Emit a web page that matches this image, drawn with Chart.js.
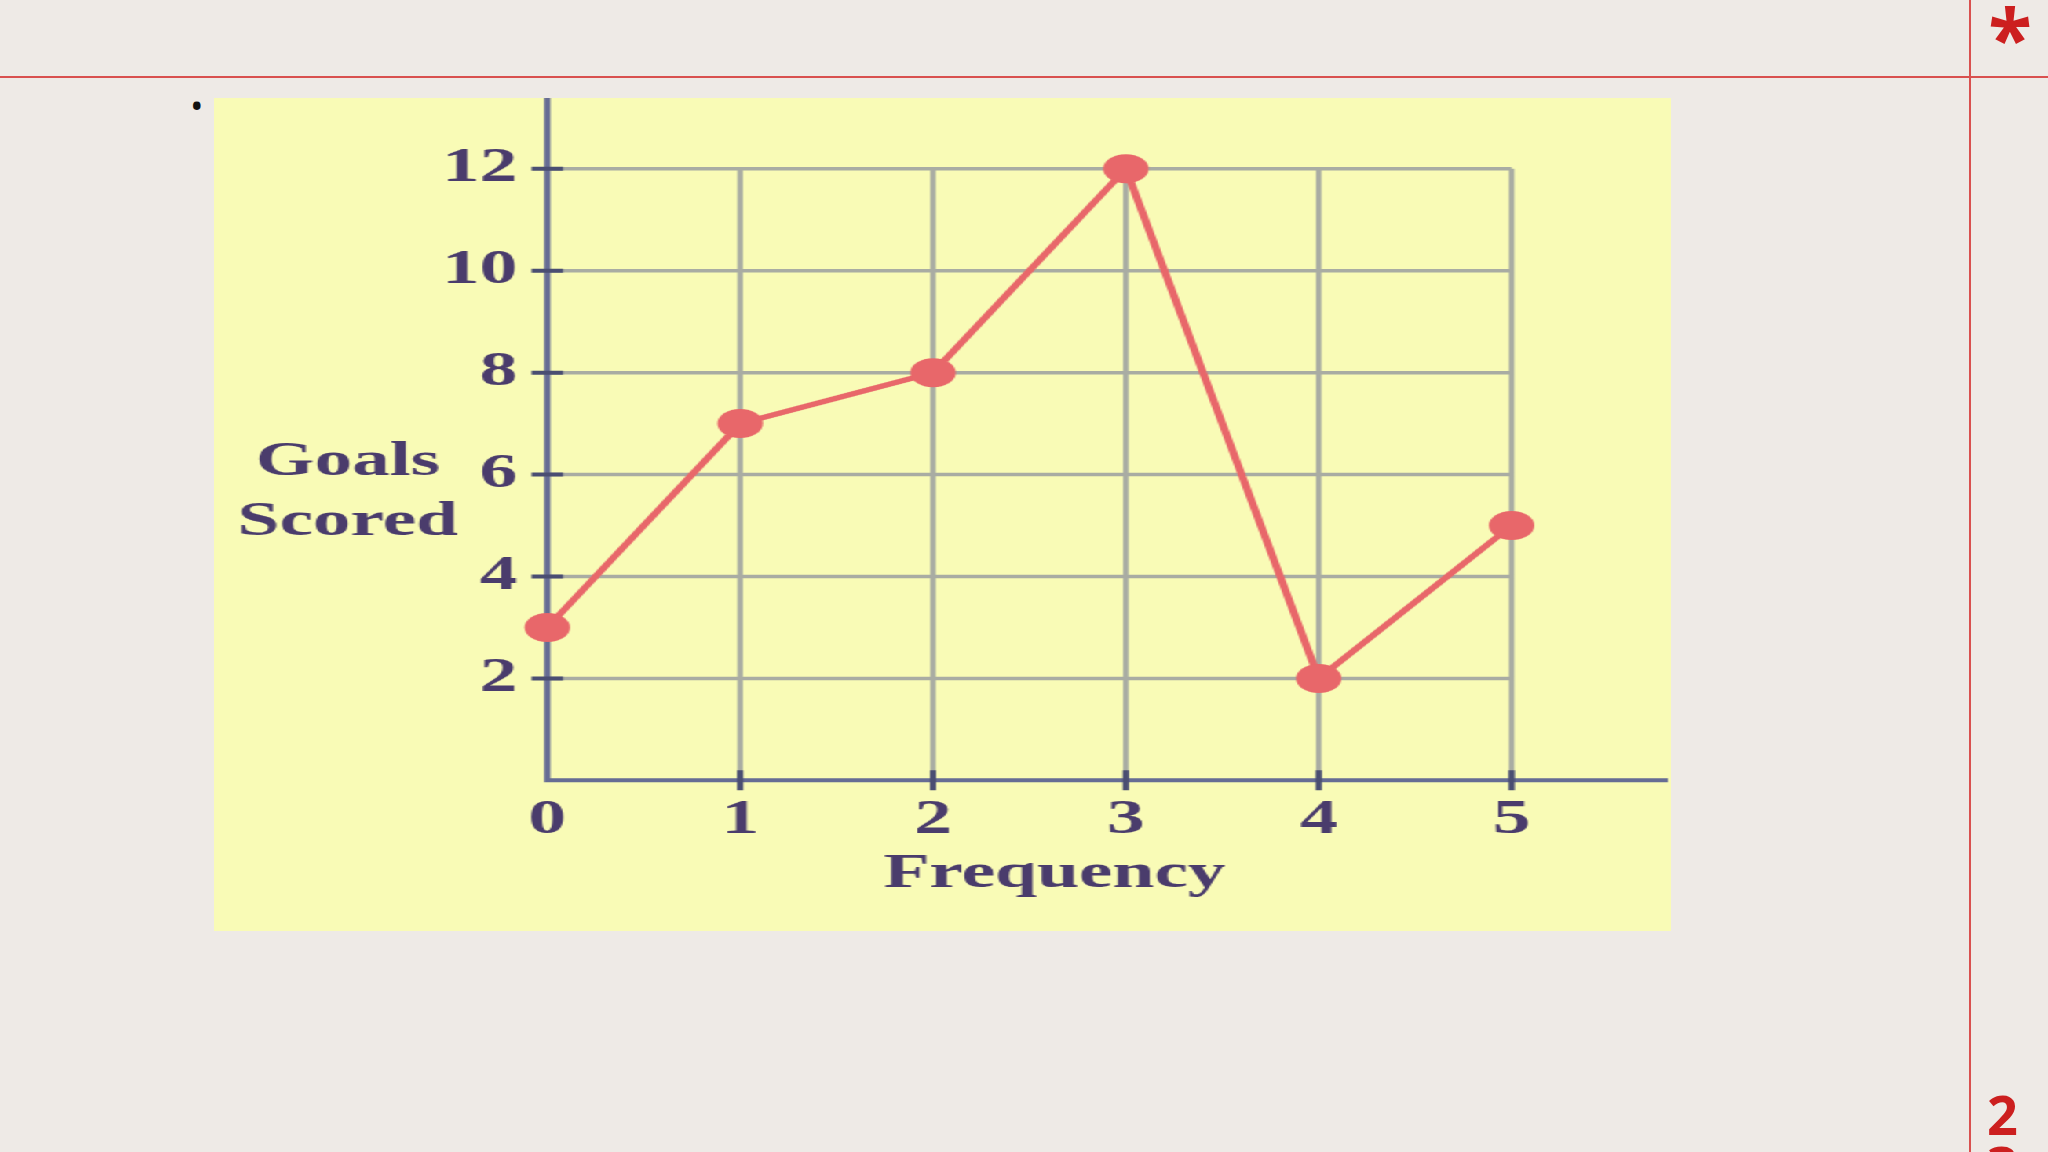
<!DOCTYPE html>
<html>
<head>
<meta charset="utf-8">
<script src="https://cdn.jsdelivr.net/npm/chart.js@4.4.1/dist/chart.umd.min.js"></script>
<style>
  html, body { margin: 0; padding: 0; }
  body {
    width: 2048px; height: 1152px; overflow: hidden; position: relative;
    background: #eeeae6; font-family: "Open Sans", sans-serif;
  }
  .rule-h { position: absolute; left: 0; top: 76px; width: 2048px; height: 2px; background: #d9514f; }
  .rule-v { position: absolute; left: 1969px; top: 0; width: 2px; height: 1152px; background: #d9514f; }
  .star { position: absolute; left: 1980px; top: -4px; width: 60px; text-align: center;
    font: bold 80px/80px "Open Sans", sans-serif; color: #cc1f1f; }
  .slide-no { position: absolute; left: 1987px; top: 1089px; width: 40px;
    font: bold 54px/51px "Open Sans", sans-serif; color: #cc1f1f; }
  .bullet { position: absolute; left: 190px; top: 88px; font: 36px/36px "Open Sans", sans-serif; color: #111; }
  /* the picture in the slide is a stretched image, so the whole chart is stretched sideways */
  #wrap { position: absolute; left: 214px; top: 98px; width: 928px; height: 833px;
    background: #f9fbb6; transform: scaleX(1.57); transform-origin: 0 0; }
</style>
</head>
<body>
<div class="rule-h"></div>
<div class="rule-v"></div>
<div class="star">*</div>
<div class="slide-no">2<br>3</div>
<div class="bullet">•</div>
<div id="wrap"><canvas id="chart" width="928" height="833"></canvas></div>

<script>
// Data
const frequency = [0, 1, 2, 3, 4, 5];
const goalsScored = [3, 7, 8, 12, 2, 5];
const xTickValues = [0, 1, 2, 3, 4, 5];
const yTickValues = [2, 4, 6, 8, 10, 12];
const xTitle = "Frequency";
const yTitleLines = ["Goals", "Scored"];

// Axis ranges (axes run a little past the last grid line)
const xMax = 5.81;
const yMax = 13.39;

const lineRed = "#e8676a";
const textPurple = "#4a3c6c";
const axisBlue = "rgb(102,108,148)";
const tickDark = "#4a4e72";
const gridGray = "rgba(115,120,150,0.6)";
const labelFont = { family: "'Liberation Serif', serif", weight: "bold", size: 48 };

/* ----------------------------
    Grid limited to the 0..5 / 0..12 box, axes and crossing tick marks
---------------------------- */
const gridAndAxes = {
  id: "gridAndAxes",
  beforeDatasetsDraw(chart) {
    const { ctx, scales: { x, y } } = chart;
    const xLast = xTickValues[xTickValues.length - 1];
    const yLast = yTickValues[yTickValues.length - 1];
    const left = x.getPixelForValue(0);
    const right = x.getPixelForValue(xLast);
    const bottom = y.getPixelForValue(0);
    const top = y.getPixelForValue(yLast);
    ctx.save();
    ctx.lineCap = "butt";
    // grid lines
    ctx.strokeStyle = gridGray;
    ctx.lineWidth = 3.5;
    ctx.beginPath();
    yTickValues.forEach((v) => {
      const py = y.getPixelForValue(v);
      ctx.moveTo(left, py);
      ctx.lineTo(right, py);
    });
    xTickValues.forEach((v) => {
      if (v === 0) return;
      const px = x.getPixelForValue(v);
      ctx.moveTo(px, bottom);
      ctx.lineTo(px, top);
    });
    ctx.stroke();
    // axes
    ctx.strokeStyle = axisBlue;
    ctx.lineWidth = 4;
    ctx.beginPath();
    ctx.moveTo(left, y.getPixelForValue(yMax));
    ctx.lineTo(left, bottom);
    ctx.lineTo(x.getPixelForValue(xMax), bottom);
    ctx.stroke();
    // tick marks crossing the axes
    ctx.strokeStyle = tickDark;
    ctx.lineWidth = 4;
    ctx.beginPath();
    yTickValues.forEach((v) => {
      const py = y.getPixelForValue(v);
      ctx.moveTo(left - 10, py);
      ctx.lineTo(left + 10, py);
    });
    xTickValues.forEach((v) => {
      if (v === 0) return;
      const px = x.getPixelForValue(v);
      ctx.moveTo(px, bottom - 10);
      ctx.lineTo(px, bottom + 10);
    });
    ctx.stroke();
    ctx.restore();
  },
};

// Horizontal axis titles: two-line "Goals Scored" left of the axis, "Frequency" under the ticks
const axisTitles = {
  id: "axisTitles",
  afterDraw(chart) {
    const { ctx, scales: { x, y } } = chart;
    ctx.save();
    ctx.font = "bold 48px 'Liberation Serif', serif";
    ctx.fillStyle = textPurple;
    ctx.textAlign = "center";
    ctx.textBaseline = "alphabetic";
    const ty = y.getPixelForValue(6);
    const tx = x.getPixelForValue(0) - 127;
    yTitleLines.forEach((line, i) => ctx.fillText(line, tx, ty + i * 60));
    const fx = (x.getPixelForValue(0) + x.getPixelForValue(5)) / 2 + 16;
    ctx.fillText(xTitle, fx, y.getPixelForValue(0) + 107);
    ctx.restore();
  },
};

const config = {
  type: "line",
  data: {
    datasets: [
      {
        data: frequency.map((f, i) => ({ x: f, y: goalsScored[i] })),
        borderColor: lineRed,
        backgroundColor: lineRed,
        borderWidth: 5,
        pointRadius: 14.5,
        pointHoverRadius: 14.5,
        pointBorderWidth: 0,
        pointBackgroundColor: lineRed,
        tension: 0,
        clip: false,
      },
    ],
  },
  options: {
    responsive: false,
    animation: false,
    events: [],
    layout: { autoPadding: false, padding: { top: 0, right: 2, bottom: 0, left: 0 } },
    plugins: { legend: { display: false }, tooltip: { enabled: false } },
    scales: {
      x: {
        type: "linear",
        min: 0,
        max: xMax,
        border: { display: false },
        grid: { display: false, drawTicks: false },
        ticks: { font: labelFont, color: textPurple, padding: 11, maxRotation: 0, autoSkip: false },
        afterBuildTicks: (s) => { s.ticks = xTickValues.map((v) => ({ value: v })); },
        afterFit: (s) => { s.height = 150.7; s.paddingLeft = 0; s.paddingRight = 0; },
      },
      y: {
        type: "linear",
        min: 0,
        max: yMax,
        border: { display: false },
        grid: { display: false, drawTicks: false },
        ticks: { font: labelFont, color: textPurple, padding: 19, autoSkip: false },
        afterBuildTicks: (s) => { s.ticks = yTickValues.map((v) => ({ value: v })); },
        afterFit: (s) => { s.width = 212.3; s.paddingTop = 0; s.paddingBottom = 0; },
      },
    },
  },
  plugins: [gridAndAxes, axisTitles],
};

new Chart(document.getElementById("chart").getContext("2d"), config);
</script>
</body>
</html>
